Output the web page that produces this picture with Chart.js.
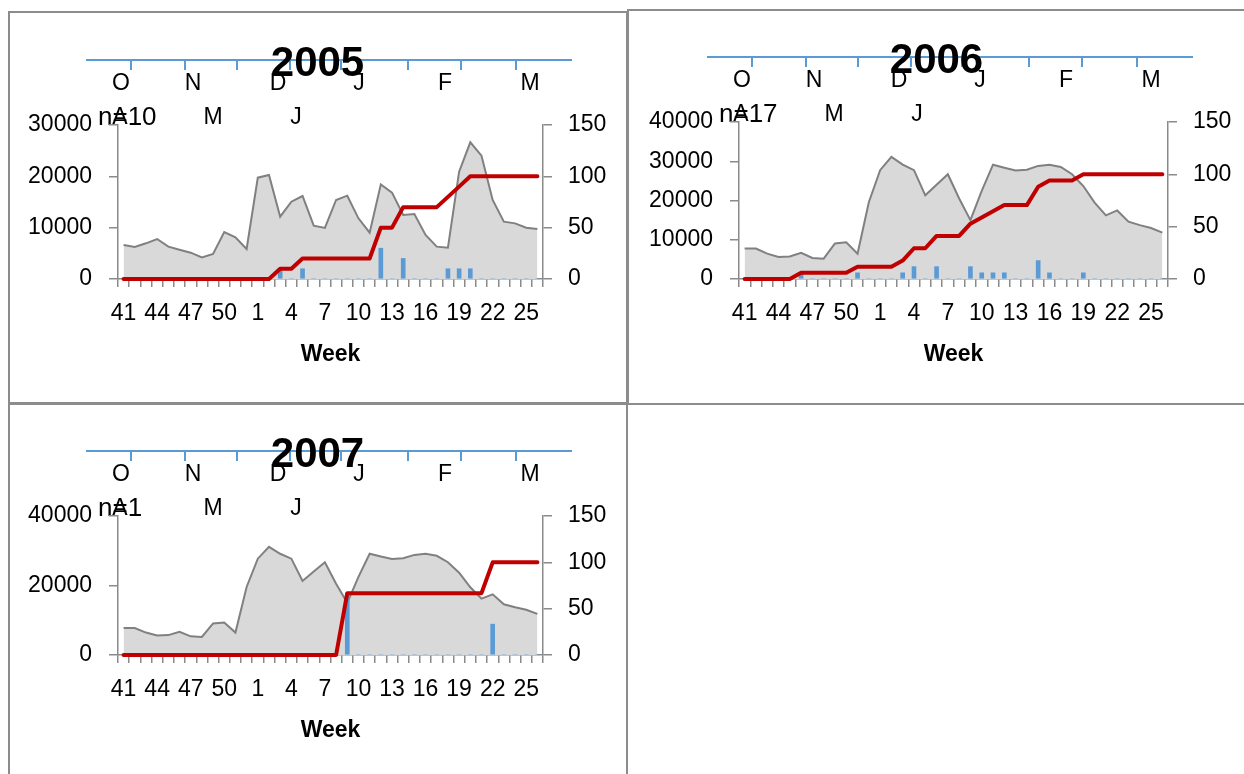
<!DOCTYPE html>
<html>
<head>
<meta charset="utf-8">
<script src="https://cdn.jsdelivr.net/npm/chart.js@4.4.1/dist/chart.umd.min.js"></script>
<style>
  html, body { margin: 0; padding: 0; background: #fff; }
  body { width: 1244px; height: 774px; position: relative; overflow: hidden; }
  .frame { position: absolute; box-sizing: border-box; border: 2px solid #8c8c8c; }
  canvas.panel { position: absolute; }
</style>
</head>
<body>
<div class="frame" style="left:8px;top:11px;width:620px;height:394px"></div>
<div class="frame" style="left:627px;top:9px;width:620px;height:396px"></div>
<div class="frame" style="left:8px;top:402px;width:620px;height:380px"></div>

<canvas id="c2005" class="panel" width="617" height="391" style="left:9px;top:12px;width:617px;height:391px"></canvas>
<canvas id="c2006" class="panel" width="615" height="393" style="left:629px;top:10px;width:615px;height:393px"></canvas>
<canvas id="c2007" class="panel" width="617" height="371" style="left:9px;top:403px;width:617px;height:371px"></canvas>

<script>
// ---- data ----------------------------------------------------------------
const weeks = ['41','42','43','44','45','46','47','48','49','50','51','52',
  '1','2','3','4','5','6','7','8','9','10','11','12','13','14','15','16','17',
  '18','19','20','21','22','23','24','25','26'];
const weekTicks = ['41','44','47','50','1','4','7','10','13','16','19','22','25'];

const monthsRow1 = ['O','N','D','J','F','M'];
const monthsRow2 = ['A','M','J'];

// weekly activity (left axis)
const activity2005 = [6620, 6230, 6950, 7790, 6300, 5710, 5130, 4220, 4870, 9160, 8120, 5840,
  19740, 20260, 12140, 15060, 16170, 10390, 9940, 15390, 16230, 11820, 9020, 18440, 16820,
  12470, 12660, 8570, 6300, 6100, 20900, 26630, 24030, 15390, 11170, 10840, 10000, 9740];
const activity2006 = [7760, 7760, 6450, 5600, 5720, 6680, 5370, 5190, 9070, 9350, 6450, 19570,
  27720, 31120, 29130, 27720, 21320, 24020, 26680, 20500, 15000, 22470, 29130, 28360, 27640,
  27820, 28810, 29130, 28540, 26700, 23680, 19480, 16210, 17470, 14590, 13720, 13000, 11820];
const activity2007 = [7760, 7760, 6450, 5600, 5720, 6680, 5370, 5190, 9070, 9350, 6450, 19570,
  27720, 31120, 29130, 27720, 21320, 24020, 26680, 20500, 15000, 22470, 29130, 28360, 27640,
  27820, 28810, 29130, 28540, 26700, 23680, 19480, 16210, 17470, 14590, 13720, 13000, 11820];

// weekly share of cases, % (right axis)
const weekly2005 = [0,0,0,0,0,0,0,0,0,0,0,0,0,0,10,0,10,0,0,0,0,0,0,30,0,20,0,0,0,10,10,10,0,0,0,0,0,0];
const weekly2006 = [0,0,0,0,0,5.9,0,0,0,0,5.9,0,0,0,5.9,11.8,0,11.8,0,0,11.8,5.9,5.9,5.9,0,0,17.6,5.9,0,0,5.9,0,0,0,0,0,0,0];
const weekly2007 = [0,0,0,0,0,0,0,0,0,0,0,0,0,0,0,0,0,0,0,0,66.7,0,0,0,0,0,0,0,0,0,0,0,0,33.3,0,0,0,0];

// cumulative share of cases, % (right axis)
const cumulative2005 = [0,0,0,0,0,0,0,0,0,0,0,0,0,0,10,10,20,20,20,20,20,20,20,50,50,70,70,70,70,80,90,100,100,100,100,100,100,100];
const cumulative2006 = [0,0,0,0,0,5.9,5.9,5.9,5.9,5.9,11.8,11.8,11.8,11.8,17.6,29.4,29.4,41.2,41.2,41.2,52.9,58.8,64.7,70.6,70.6,70.6,88.2,94.1,94.1,94.1,100,100,100,100,100,100,100,100];
const cumulative2007 = [0,0,0,0,0,0,0,0,0,0,0,0,0,0,0,0,0,0,0,0,66.7,66.7,66.7,66.7,66.7,66.7,66.7,66.7,66.7,66.7,66.7,66.7,66.7,100,100,100,100,100];

const leftTicks2005 = { max: 30000, step: 10000 };
const leftTicks2006 = { max: 40000, step: 10000 };
const leftTicks2007 = { max: 40000, step: 20000 };
const rightTicks = { max: 150, step: 50 };

// ---- styling ---------------------------------------------------------------
const FONT = '"Liberation Sans", Arial, sans-serif';
const AXIS = '#8a8a8a';
const BLUE = '#5B9BD5';
const RED = '#C00000';

Chart.defaults.font.family = FONT;
Chart.defaults.color = '#000';

// month ruler and labels above each plot, offsets from the plot area corner
const HEADER = {
  rulerY: -65, rulerFrom: -32, rulerTo: 454, rulerTick: 10,
  rulerTicks: [13, 67, 119, 172, 223, 290, 343, 398],
  row1Y: -41, row1X: [3, 75, 160, 241, 327, 412],
  row2Y: -7, row2X: [2, 95, 178],
  countX: -20, weekY: 76
};

const seasonHeader = {
  id: 'seasonHeader',
  beforeDraw(chart, args, opts) {
    const { ctx, chartArea: a } = chart;
    ctx.save();
    const ry = a.top + HEADER.rulerY;
    ctx.strokeStyle = BLUE;
    ctx.lineWidth = 2;
    ctx.beginPath();
    ctx.moveTo(a.left + HEADER.rulerFrom, ry);
    ctx.lineTo(a.left + HEADER.rulerTo, ry);
    HEADER.rulerTicks.forEach(t => {
      ctx.moveTo(a.left + t, ry);
      ctx.lineTo(a.left + t, ry + HEADER.rulerTick);
    });
    ctx.stroke();

    ctx.fillStyle = '#000';
    ctx.textBaseline = 'middle';
    ctx.textAlign = 'left';
    ctx.font = '26px ' + FONT;
    ctx.fillText(opts.count, a.left + HEADER.countX, a.top + HEADER.row2Y);

    ctx.textAlign = 'center';
    ctx.font = '23px ' + FONT;
    monthsRow1.forEach((m, i) => ctx.fillText(m, a.left + HEADER.row1X[i], a.top + HEADER.row1Y));
    monthsRow2.forEach((m, i) => ctx.fillText(m, a.left + HEADER.row2X[i], a.top + HEADER.row2Y));
    ctx.restore();
  },
  afterDraw(chart) {
    const { ctx, chartArea: a } = chart;
    ctx.save();
    ctx.fillStyle = '#000';
    ctx.font = 'bold 23px ' + FONT;
    ctx.textAlign = 'center';
    ctx.textBaseline = 'middle';
    ctx.fillText('Week', (a.left + a.right) / 2, a.bottom + HEADER.weekY);
    ctx.restore();
  }
};

function makePanel(id, year, count, activity, weekly, cumulative, leftTicks, box) {
  const tickFont = { family: FONT, size: 23, lineHeight: 1.2 };
  new Chart(document.getElementById(id), {
    type: 'bar',
    data: {
      labels: weeks,
      datasets: [
        {
          type: 'line', data: cumulative, yAxisID: 'y2', order: 0,
          borderColor: RED, borderWidth: 4, pointRadius: 0, fill: false,
          tension: 0, clip: false, borderJoinStyle: 'round', borderCapStyle: 'round'
        },
        {
          type: 'bar', data: weekly, yAxisID: 'y2', order: 1,
          backgroundColor: BLUE, borderWidth: 0, barThickness: 4
        },
        {
          type: 'line', data: activity, yAxisID: 'y', order: 2,
          borderColor: '#808080', borderWidth: 2, backgroundColor: '#D9D9D9',
          fill: 'origin', pointRadius: 0, tension: 0
        }
      ]
    },
    options: {
      responsive: false,
      animation: false,
      events: [],
      layout: { padding: 0 },
      plugins: {
        legend: { display: false },
        tooltip: { enabled: false },
        title: {
          display: true, text: year, color: '#000',
          font: { family: FONT, size: 42, weight: 'bold', lineHeight: 1 },
          padding: { top: box.top - 82, bottom: 40 }
        },
        seasonHeader: { count }
      },
      scales: {
        x: {
          type: 'category', offset: true,
          grid: { display: true, drawOnChartArea: false, drawTicks: true, tickLength: 8, offset: true, color: AXIS, lineWidth: 1.5 },
          border: { display: true, color: AXIS, width: 1.5 },
          ticks: {
            autoSkip: false, maxRotation: 0, minRotation: 0, padding: 13, font: tickFont, color: '#000',
            callback: (v, i) => weekTicks.includes(weeks[i]) ? weeks[i] : ''
          },
          afterFit: s => { s.height = box.bottom; }
        },
        y: {
          position: 'left', min: 0, max: leftTicks.max,
          grid: { display: true, drawOnChartArea: false, drawTicks: true, tickLength: 9, color: AXIS, lineWidth: 1.5 },
          border: { display: true, color: AXIS, width: 1.5 },
          ticks: { stepSize: leftTicks.step, padding: 17, font: tickFont, color: '#000', callback: v => String(v) },
          afterFit: s => { s.width = box.left; }
        },
        y2: {
          position: 'right', min: 0, max: rightTicks.max,
          grid: { display: true, drawOnChartArea: false, drawTicks: true, tickLength: 9, color: AXIS, lineWidth: 1.5 },
          border: { display: true, color: AXIS, width: 1.5 },
          ticks: { stepSize: rightTicks.step, padding: 16, font: tickFont, color: '#000', callback: v => String(v) },
          afterFit: s => { s.width = box.right; }
        }
      }
    },
    plugins: [seasonHeader]
  });
}

makePanel('c2005', '2005', 'n=10', activity2005, weekly2005, cumulative2005, leftTicks2005,
  { left: 109, right: 83, top: 113, bottom: 124 });
makePanel('c2006', '2006', 'n=17', activity2006, weekly2006, cumulative2006, leftTicks2006,
  { left: 110, right: 76, top: 112, bottom: 124 });
makePanel('c2007', '2007', 'n=1', activity2007, weekly2007, cumulative2007, leftTicks2007,
  { left: 109, right: 83, top: 113, bottom: 119 });
</script>
</body>
</html>
